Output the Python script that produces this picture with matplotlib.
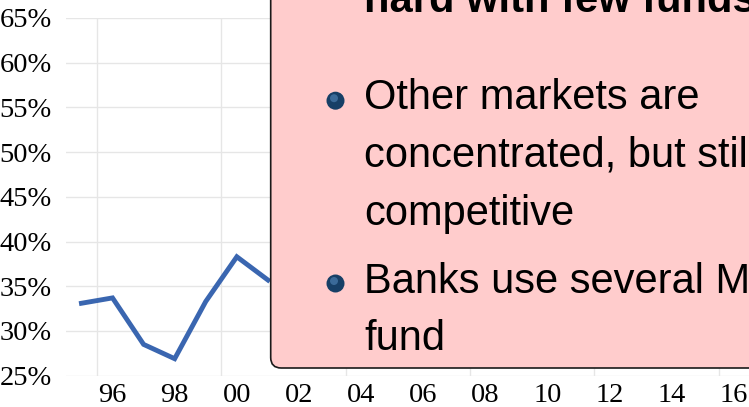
import matplotlib.pyplot as plt
from matplotlib.patches import FancyBboxPatch, Ellipse
from matplotlib.ticker import FixedLocator, PercentFormatter

# === DATA ===
years = [1995, 1996, 1997, 1998, 1999, 2000, 2001]
share = [33.1, 33.7, 28.5, 26.9, 33.3, 38.3, 35.7]

label_years = list(range(1996, 2018, 2))
tick_labels = [f"{y % 100:02d}" for y in label_years]
grid_years = [1995.5, 1999.5, 2003.5, 2007.5, 2011.5, 2015.5]

title_line = "hard with few funds"
bullets = [
    ["Other markets are", "concentrated, but still", "competitive"],
    ["Banks use several M", "fund"],
]

# === FIGURE ===
W, H = 749, 407
fig = plt.figure(figsize=(W / 100, H / 100), dpi=100)

x0, x1 = 65.9, 780.7
y_top, y_bot = 18.0, 375.7
ax = fig.add_axes([x0 / W, 1 - y_bot / H, (x1 - x0) / W, (y_bot - y_top) / H])

ax.plot(years, share, color="#3a66b0", lw=3.5, solid_joinstyle="miter", zorder=3)

ax.set_xlim(1994.5, 2017.5)
ax.set_ylim(25, 65)
ax.set_yticks(range(25, 70, 5))
ax.yaxis.set_major_formatter(PercentFormatter(decimals=0))
ax.set_xticks(label_years)
ax.set_xticklabels(tick_labels)
ax.xaxis.set_minor_locator(FixedLocator(grid_years))

ax.grid(True, axis="y", which="major", color="#e6e6e6", lw=1.0)
ax.grid(True, axis="x", which="minor", color="#e6e6e6", lw=1.0)
for s in ax.spines.values():
    s.set_visible(False)
ax.tick_params(axis="both", which="both", length=0)
ax.tick_params(axis="y", pad=10, labelsize=20.5)
ax.tick_params(axis="x", pad=5, labelsize=20.5)
for lab in ax.get_xticklabels() + ax.get_yticklabels():
    lab.set_fontfamily("Liberation Serif")

# === CALLOUT BOX ===
def fx(px):
    return px / W

def fy(py):
    return 1 - py / H

box = FancyBboxPatch((fx(270.7), fy(368)), fx(760) - fx(270.7), fy(-30) - fy(368),
                     boxstyle="round,pad=0,rounding_size=0.014",
                     transform=fig.transFigure, facecolor="#ffcccc",
                     edgecolor="#1a1a1a", lw=1.2, zorder=10,
                     mutation_aspect=W / H)
fig.patches.append(box)

sans = ["Liberation Sans", "DejaVu Sans"]
fig.text(fx(364), fy(12), title_line, fontsize=30, fontweight="bold",
         family=sans, va="baseline", ha="left", zorder=11)

baselines = [[109.3, 166.7, 225.0], [292.7, 350.0]]
bullet_y = [100.7, 283.5]
for lines, bls, by in zip(bullets, baselines, bullet_y):
    fig.patches.append(Ellipse((fx(335.5), fy(by)), 18.0 / W, 18.0 / H,
                               transform=fig.transFigure,
                               facecolor="#173f66", edgecolor="none", zorder=11))
    fig.patches.append(Ellipse((fx(334.0), fy(by - 2.5)), 8.0 / W, 8.0 / H,
                               transform=fig.transFigure,
                               facecolor="#3b6a98", edgecolor="none", zorder=12))
    for line, bl in zip(lines, bls):
        fig.text(fx(364), fy(bl), line, fontsize=30, family=sans,
                 va="baseline", ha="left", zorder=11)

plt.savefig("out.png", dpi=100)
plt.close()
